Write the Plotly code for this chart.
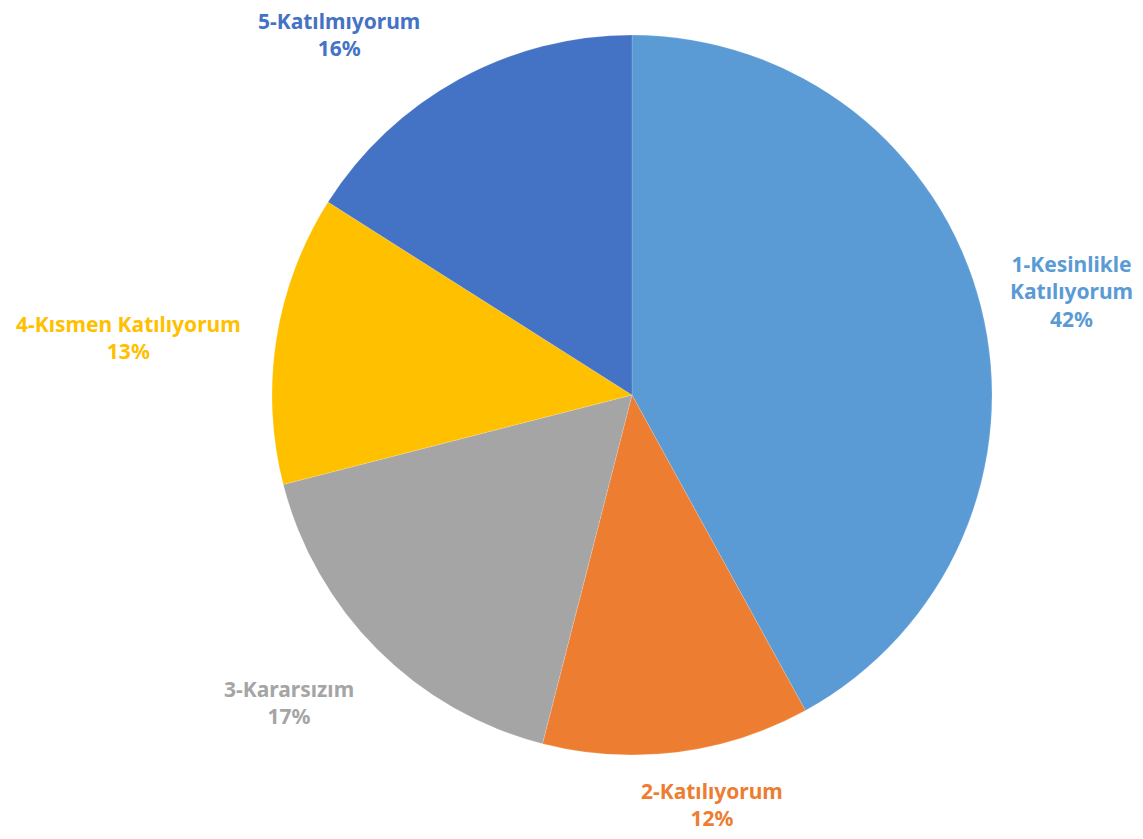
import plotly.graph_objects as go

labels = ["1-Kesinlikle Katılıyorum", "2-Katılıyorum", "3-Kararsızım", "4-Kısmen Katılıyorum", "5-Katılmıyorum"]
label_lines = ["1-Kesinlikle<br>Katılıyorum", "2-Katılıyorum", "3-Kararsızım", "4-Kısmen Katılıyorum", "5-Katılmıyorum"]
values = [42, 12, 17, 13, 16]
colors = ["#5B9BD5", "#ED7D31", "#A5A5A5", "#FFC000", "#4472C4"]

# label anchor positions (window pixels, layout only)
label_pos = [(1071, 291), (712, 804), (289, 702), (128, 337), (339, 34)]

OFF = 8  # default page body margin
W, H = 1143 - OFF, 839 - OFF
cx, cy, R = 632 - OFF, 395 - OFF, 360
l, r, t, b = cx - R, W - cx - R, cy - R, H - cy - R
pw, ph = W - l - r, H - t - b

fig = go.Figure(go.Pie(
    labels=labels,
    values=values,
    textinfo="none",
    sort=False,
    direction="clockwise",
    rotation=0,
    marker=dict(colors=colors, line=dict(color="rgba(255,255,255,0.3)", width=0.5)),
    showlegend=False,
    hoverinfo="label+percent",
    automargin=False,
))

total = sum(values)
for lab, v, c, (px, py) in zip(label_lines, values, colors, label_pos):
    fig.add_annotation(
        x=(px - OFF - l) / pw, y=1 - (py - OFF - t) / ph, xref="paper", yref="paper",
        text=f"<b>{lab}<br>{round(100 * v / total)}%</b>",
        showarrow=False, xanchor="center", yanchor="middle", align="center",
        font=dict(family="Noto Sans", size=21, color=c),
    )

fig.update_layout(
    width=W, height=H,
    margin=dict(l=l, r=r, t=t, b=b),
    paper_bgcolor="white",
    plot_bgcolor="white",
)

fig.write_html("out.html")
